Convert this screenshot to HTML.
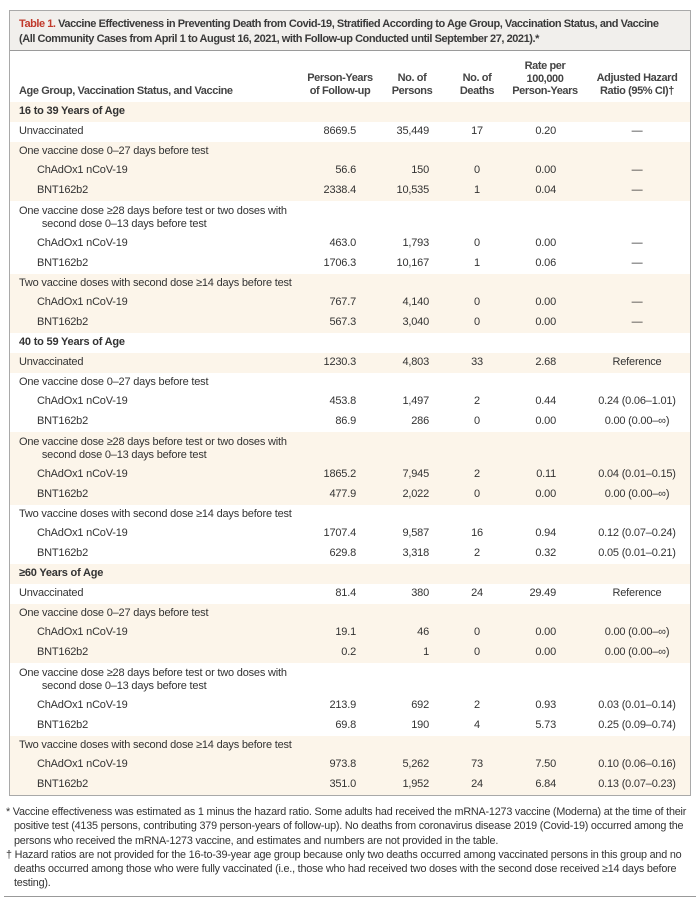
<!DOCTYPE html>
<html><head><meta charset="utf-8"><style>
*{margin:0;padding:0;box-sizing:border-box}
body{width:700px;height:901px;background:#fff;font-family:"Liberation Sans",sans-serif;color:#333;position:relative;overflow:hidden}
.box{position:absolute;left:9px;top:10px;width:682px;height:786px;border:1px solid #a9a9a9}
.title{position:absolute;left:0;top:0;width:680px;height:40px;background:#f1efec;border-bottom:1.5px solid #9a9a9a;padding:6px 0 0 9px;font-size:11px;font-weight:bold;line-height:14.5px;letter-spacing:-0.45px;color:#3a3a3a}
.title .r{color:#c0392b}
.hdr{position:absolute;left:0;top:41px;width:680px;height:50px;font-size:11px;font-weight:bold;color:#444;letter-spacing:-0.4px}
.hdr div{position:absolute;text-align:center;line-height:12.5px}
.rows{position:absolute;left:0;top:91px;width:680px}
.row{position:relative;height:19.8px;font-size:11px;line-height:19.8px;letter-spacing:-0.2px}
.row.t{height:33px}
.b{background:#fcf5ea}
.l{position:absolute;left:9px;white-space:nowrap}
.row.sub .l{left:27px}
.row.g .l{font-weight:bold}
.row.t .l{line-height:13px;top:4px}
.c{position:absolute;top:0}
.py{left:280px;width:66px;text-align:right}
.np{left:360px;width:59px;text-align:right}
.nd{left:437px;width:60px;text-align:center}
.rt{left:490px;width:56px;text-align:right}
.hr{left:570px;width:114px;text-align:center}
.fn{position:absolute;left:6px;top:805px;width:690px;font-size:10.8px;line-height:14.3px;letter-spacing:-0.2px;color:#333}
.fn p{padding-left:8px;text-indent:-8px}
.bot{position:absolute;left:4px;top:896px;width:692px;border-top:1.5px solid #999}
</style></head><body>
<div class="box">
<div class="title"><span class="r">Table 1.</span> Vaccine Effectiveness in Preventing Death from Covid-19, Stratified According to Age Group, Vaccination Status, and Vaccine<br>(All Community Cases from April 1 to August 16, 2021, with Follow-up Conducted until September 27, 2021).*</div>
<div class="hdr">
<div style="left:9px;top:33px;text-align:left">Age Group, Vaccination Status, and Vaccine</div>
<div style="left:290px;width:80px;top:20px">Person-Years<br>of Follow-up</div>
<div style="left:372px;width:60px;top:20px">No. of<br>Persons</div>
<div style="left:437px;width:60px;top:20px">No. of<br>Deaths</div>
<div style="left:495px;width:80px;top:8px">Rate per<br>100,000<br>Person-Years</div>
<div style="left:575px;width:104px;top:20px">Adjusted Hazard<br>Ratio (95% CI)†</div>
</div>
<div class="rows">
<div class="row g b"><span class="l">16 to 39 Years of Age</span></div>
<div class="row"><span class="l">Unvaccinated</span><span class="c py">8669.5</span><span class="c np">35,449</span><span class="c nd">17</span><span class="c rt">0.20</span><span class="c hr">—</span></div>
<div class="row b"><span class="l">One vaccine dose 0–27 days before test</span></div>
<div class="row sub b"><span class="l">ChAdOx1 nCoV-19</span><span class="c py">56.6</span><span class="c np">150</span><span class="c nd">0</span><span class="c rt">0.00</span><span class="c hr">—</span></div>
<div class="row sub b"><span class="l">BNT162b2</span><span class="c py">2338.4</span><span class="c np">10,535</span><span class="c nd">1</span><span class="c rt">0.04</span><span class="c hr">—</span></div>
<div class="row t"><span class="l">One vaccine dose ≥28 days before test or two doses with<br>&nbsp;&nbsp;&nbsp;&nbsp;&nbsp;&nbsp;&nbsp;&nbsp;second dose 0–13 days before test</span></div>
<div class="row sub"><span class="l">ChAdOx1 nCoV-19</span><span class="c py">463.0</span><span class="c np">1,793</span><span class="c nd">0</span><span class="c rt">0.00</span><span class="c hr">—</span></div>
<div class="row sub"><span class="l">BNT162b2</span><span class="c py">1706.3</span><span class="c np">10,167</span><span class="c nd">1</span><span class="c rt">0.06</span><span class="c hr">—</span></div>
<div class="row b"><span class="l">Two vaccine doses with second dose ≥14 days before test</span></div>
<div class="row sub b"><span class="l">ChAdOx1 nCoV-19</span><span class="c py">767.7</span><span class="c np">4,140</span><span class="c nd">0</span><span class="c rt">0.00</span><span class="c hr">—</span></div>
<div class="row sub b"><span class="l">BNT162b2</span><span class="c py">567.3</span><span class="c np">3,040</span><span class="c nd">0</span><span class="c rt">0.00</span><span class="c hr">—</span></div>
<div class="row g"><span class="l">40 to 59 Years of Age</span></div>
<div class="row b"><span class="l">Unvaccinated</span><span class="c py">1230.3</span><span class="c np">4,803</span><span class="c nd">33</span><span class="c rt">2.68</span><span class="c hr">Reference</span></div>
<div class="row"><span class="l">One vaccine dose 0–27 days before test</span></div>
<div class="row sub"><span class="l">ChAdOx1 nCoV-19</span><span class="c py">453.8</span><span class="c np">1,497</span><span class="c nd">2</span><span class="c rt">0.44</span><span class="c hr">0.24 (0.06–1.01)</span></div>
<div class="row sub"><span class="l">BNT162b2</span><span class="c py">86.9</span><span class="c np">286</span><span class="c nd">0</span><span class="c rt">0.00</span><span class="c hr">0.00 (0.00–∞)</span></div>
<div class="row t b"><span class="l">One vaccine dose ≥28 days before test or two doses with<br>&nbsp;&nbsp;&nbsp;&nbsp;&nbsp;&nbsp;&nbsp;&nbsp;second dose 0–13 days before test</span></div>
<div class="row sub b"><span class="l">ChAdOx1 nCoV-19</span><span class="c py">1865.2</span><span class="c np">7,945</span><span class="c nd">2</span><span class="c rt">0.11</span><span class="c hr">0.04 (0.01–0.15)</span></div>
<div class="row sub b"><span class="l">BNT162b2</span><span class="c py">477.9</span><span class="c np">2,022</span><span class="c nd">0</span><span class="c rt">0.00</span><span class="c hr">0.00 (0.00–∞)</span></div>
<div class="row"><span class="l">Two vaccine doses with second dose ≥14 days before test</span></div>
<div class="row sub"><span class="l">ChAdOx1 nCoV-19</span><span class="c py">1707.4</span><span class="c np">9,587</span><span class="c nd">16</span><span class="c rt">0.94</span><span class="c hr">0.12 (0.07–0.24)</span></div>
<div class="row sub"><span class="l">BNT162b2</span><span class="c py">629.8</span><span class="c np">3,318</span><span class="c nd">2</span><span class="c rt">0.32</span><span class="c hr">0.05 (0.01–0.21)</span></div>
<div class="row g b"><span class="l">≥60 Years of Age</span></div>
<div class="row"><span class="l">Unvaccinated</span><span class="c py">81.4</span><span class="c np">380</span><span class="c nd">24</span><span class="c rt">29.49</span><span class="c hr">Reference</span></div>
<div class="row b"><span class="l">One vaccine dose 0–27 days before test</span></div>
<div class="row sub b"><span class="l">ChAdOx1 nCoV-19</span><span class="c py">19.1</span><span class="c np">46</span><span class="c nd">0</span><span class="c rt">0.00</span><span class="c hr">0.00 (0.00–∞)</span></div>
<div class="row sub b"><span class="l">BNT162b2</span><span class="c py">0.2</span><span class="c np">1</span><span class="c nd">0</span><span class="c rt">0.00</span><span class="c hr">0.00 (0.00–∞)</span></div>
<div class="row t"><span class="l">One vaccine dose ≥28 days before test or two doses with<br>&nbsp;&nbsp;&nbsp;&nbsp;&nbsp;&nbsp;&nbsp;&nbsp;second dose 0–13 days before test</span></div>
<div class="row sub"><span class="l">ChAdOx1 nCoV-19</span><span class="c py">213.9</span><span class="c np">692</span><span class="c nd">2</span><span class="c rt">0.93</span><span class="c hr">0.03 (0.01–0.14)</span></div>
<div class="row sub"><span class="l">BNT162b2</span><span class="c py">69.8</span><span class="c np">190</span><span class="c nd">4</span><span class="c rt">5.73</span><span class="c hr">0.25 (0.09–0.74)</span></div>
<div class="row b"><span class="l">Two vaccine doses with second dose ≥14 days before test</span></div>
<div class="row sub b"><span class="l">ChAdOx1 nCoV-19</span><span class="c py">973.8</span><span class="c np">5,262</span><span class="c nd">73</span><span class="c rt">7.50</span><span class="c hr">0.10 (0.06–0.16)</span></div>
<div class="row sub b"><span class="l">BNT162b2</span><span class="c py">351.0</span><span class="c np">1,952</span><span class="c nd">24</span><span class="c rt">6.84</span><span class="c hr">0.13 (0.07–0.23)</span></div>
</div>
</div>
<div class="fn">
<p>* Vaccine effectiveness was estimated as 1 minus the hazard ratio. Some adults had received the mRNA-1273 vaccine (Moderna) at the time of their positive test (4135 persons, contributing 379 person-years of follow-up). No deaths from coronavirus disease 2019 (Covid-19) occurred among the persons who received the mRNA-1273 vaccine, and estimates and numbers are not provided in the table.</p>
<p>† Hazard ratios are not provided for the 16-to-39-year age group because only two deaths occurred among vaccinated persons in this group and no deaths occurred among those who were fully vaccinated (i.e., those who had received two doses with the second dose received ≥14 days before testing).</p>
</div>
<div class="bot"></div>
</body></html>
